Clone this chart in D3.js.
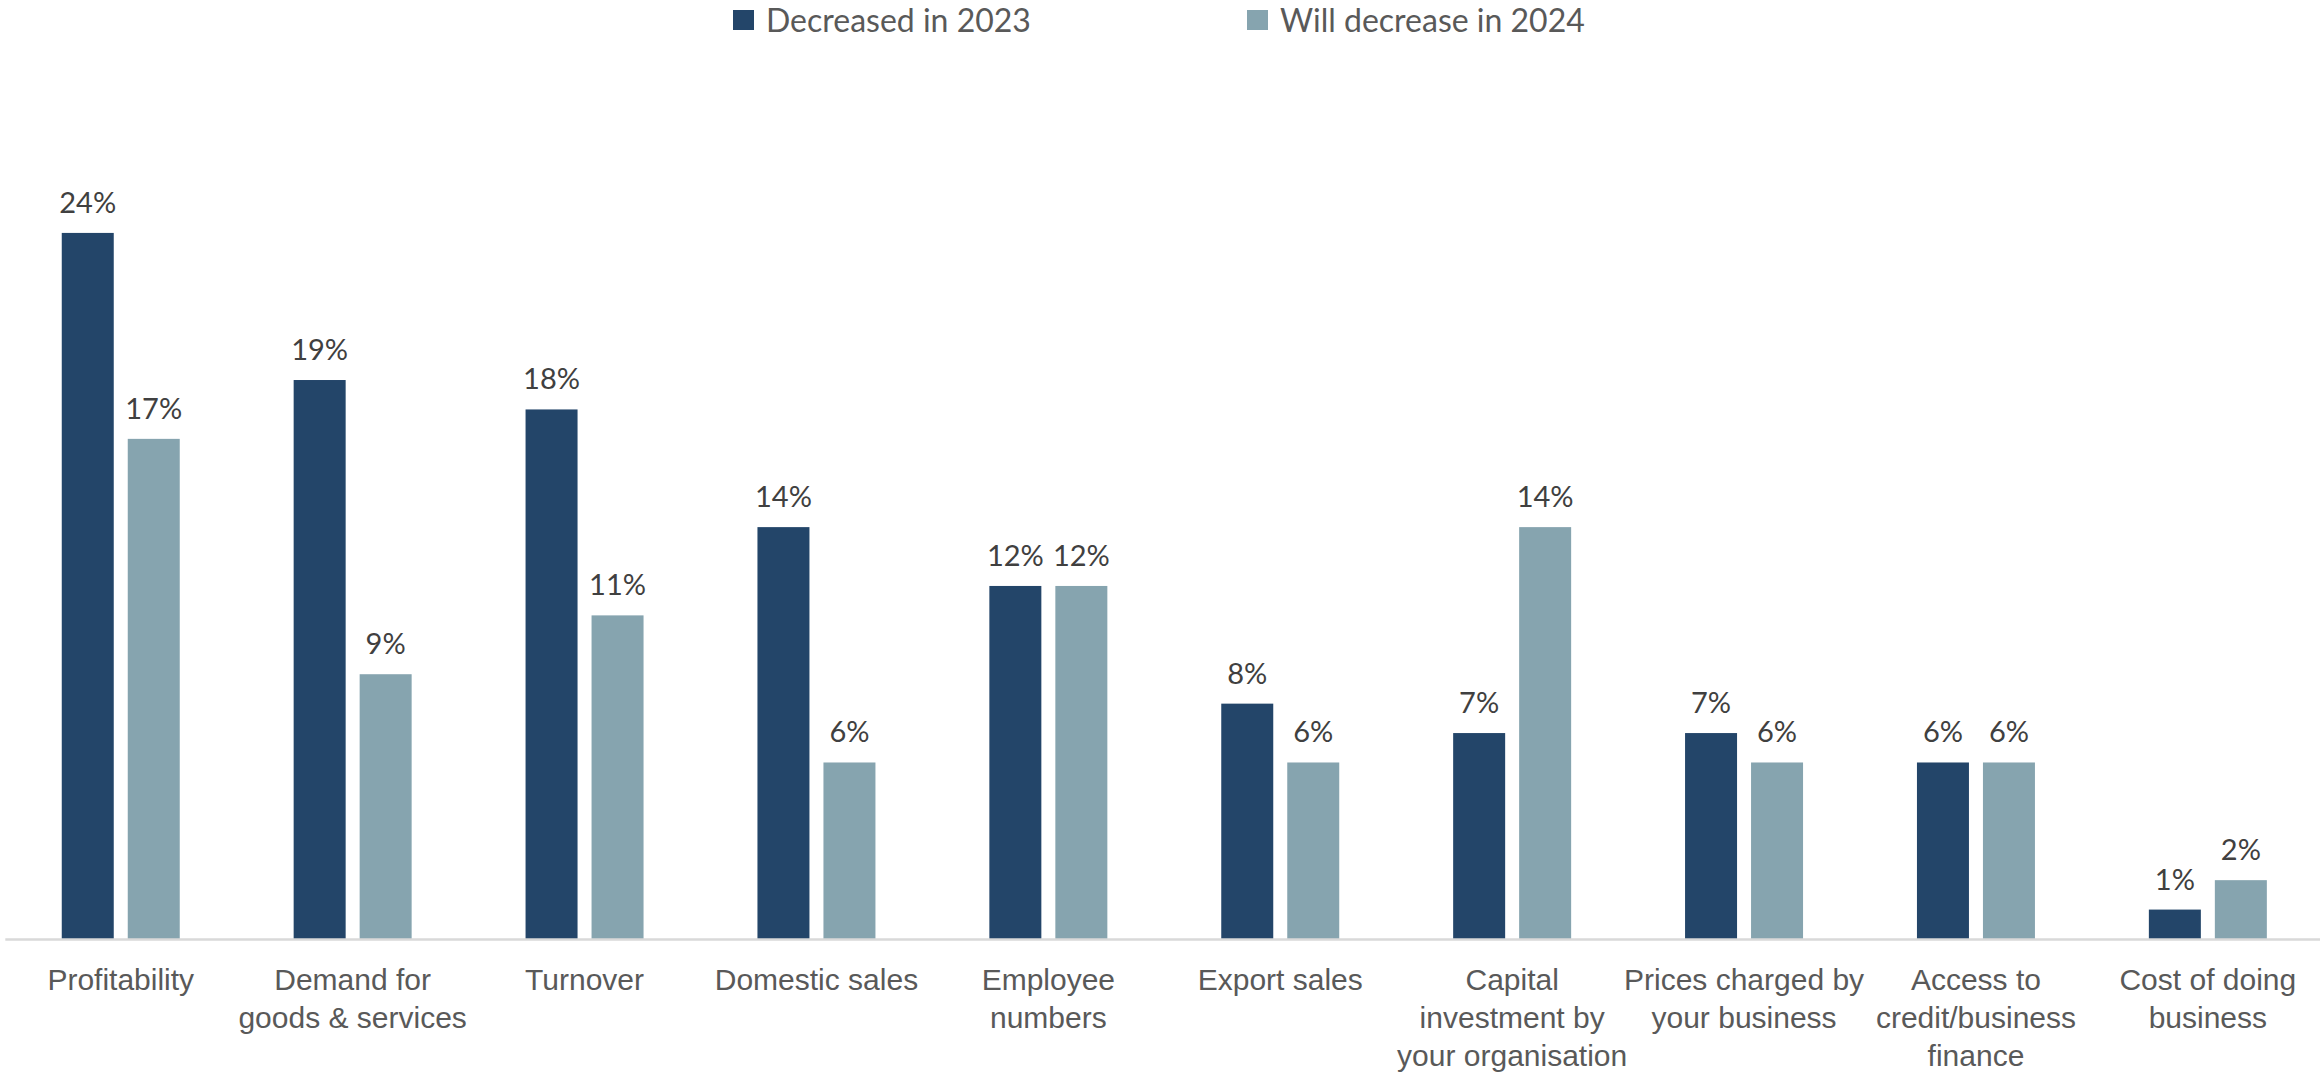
<!DOCTYPE html>
<html>
<head>
<meta charset="utf-8">
<script src="https://cdn.jsdelivr.net/npm/d3@7"></script>
<style>
  body { margin: 0; background: #ffffff; }
  svg { display: block; font-family: Lato, "Open Sans", sans-serif; }
</style>
</head>
<body>
<div id="chart"></div>
<script>
// Chart data
var categories = [
  "Profitability",
  "Demand for\ngoods & services",
  "Turnover",
  "Domestic sales",
  "Employee\nnumbers",
  "Export sales",
  "Capital\ninvestment by\nyour organisation",
  "Prices charged by\nyour business",
  "Access to\ncredit/business\nfinance",
  "Cost of doing\nbusiness"
];
var seriesNames = ["Decreased in 2023", "Will decrease in 2024"];
var decreased2023 = [24, 19, 18, 14, 12, 8, 7, 7, 6, 1];
var decrease2024 = [17, 9, 11, 6, 12, 6, 14, 6, 6, 2];
var seriesColors = ["#234569", "#86A4AF"];

var width = 2320, height = 1075;
var baseY = 939;

var svg = d3.select("#chart")
  .append("svg")
  .attr("width", width)
  .attr("height", height);

// outer scale for the categories, inner one for the two series
var x0 = d3.scaleBand()
  .domain(categories)
  .range([4.8, 2323.8])
  .padding(0);

var x1 = d3.scaleBand()
  .domain(seriesNames)
  .range([0, x0.bandwidth()])
  .paddingInner(14 / 66)
  .paddingOuter(0.863);

var y = d3.scaleLinear()
  .domain([0, 24])
  .range([baseY, baseY - 24 * 29.42]);

var rows = categories.map(function(c, i) {
  return { cat: c, values: [decreased2023[i], decrease2024[i]] };
});

// bars
var groups = svg.selectAll("g.group")
  .data(rows)
  .enter()
  .append("g")
  .attr("class", "group")
  .attr("transform", function(d) { return "translate(" + x0(d.cat) + ",0)"; });

groups.selectAll("rect")
  .data(function(d) { return d.values.map(function(v, j) { return { key: seriesNames[j], value: v, j: j }; }); })
  .enter()
  .append("rect")
  .attr("x", function(d) { return x1(d.key); })
  .attr("y", function(d) { return y(d.value); })
  .attr("width", x1.bandwidth())
  .attr("height", function(d) { return baseY - y(d.value); })
  .attr("fill", function(d) { return seriesColors[d.j]; });

// value labels above the bars
groups.selectAll("text.val")
  .data(function(d) { return d.values.map(function(v, j) { return { key: seriesNames[j], value: v }; }); })
  .enter()
  .append("text")
  .attr("class", "val")
  .attr("x", function(d) { return x1(d.key) + x1.bandwidth() / 2; })
  .attr("y", function(d) { return y(d.value) - 20; })
  .attr("text-anchor", "middle")
  .attr("font-size", 29)
  .attr("fill", "#404040")
  .text(function(d) { return d.value + "%"; });

// x axis with wrapped labels
var axis = svg.append("g")
  .attr("transform", "translate(0," + baseY + ")")
  .call(d3.axisBottom(x0).tickSize(0).tickSizeOuter(0).tickFormat(""));

axis.select(".domain")
  .attr("stroke", "#D9D9D9")
  .attr("stroke-width", 2.5);

axis.selectAll(".tick text").remove();
axis.selectAll(".tick")
  .append("text")
  .attr("text-anchor", "middle")
  .attr("font-size", 30)
  .attr("fill", "#595959")
  .each(function(d) {
    var lines = d.split("\n");
    var t = d3.select(this);
    lines.forEach(function(line, k) {
      t.append("tspan")
        .attr("x", 0)
        .attr("y", 51 + k * 38)
        .text(line);
    });
  });

// legend
var legendX = [733, 1247];
var legend = svg.selectAll("g.legend")
  .data(seriesNames)
  .enter()
  .append("g")
  .attr("class", "legend")
  .attr("transform", function(d, i) { return "translate(" + legendX[i] + ",10)"; });

legend.append("rect")
  .attr("width", 21)
  .attr("height", 20)
  .attr("fill", function(d, i) { return seriesColors[i]; });

legend.append("text")
  .attr("x", 33)
  .attr("y", 22)
  .attr("font-size", 32)
  .attr("fill", "#595959")
  .text(function(d) { return d; });
</script>
</body>
</html>
